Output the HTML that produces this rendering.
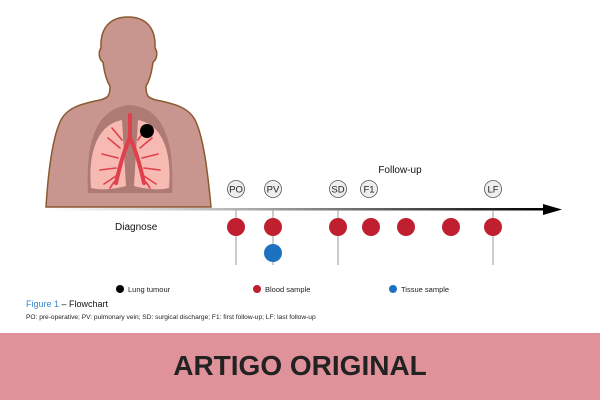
<!DOCTYPE html>
<html><head><meta charset="utf-8"><style>
body{margin:0;width:600px;height:400px;overflow:hidden;background:#fff;font-family:"Liberation Sans",Arial,sans-serif}
</style></head><body>
<svg width="600" height="400" viewBox="0 0 600 400" xmlns="http://www.w3.org/2000/svg" font-family="Liberation Sans, Arial, sans-serif">
<defs>
<linearGradient id="ax" x1="0" x2="1"><stop offset="0" stop-color="#fff"/><stop offset="0.35" stop-color="#bbb"/><stop offset="1" stop-color="#000"/></linearGradient>
</defs>
<!-- body -->
<path d="M46 207 C48 175 52 140 60 122 C66 108 80 104 100 100 C108 98 110 96 110 86 C106 80 104 70 103 62 C99 60 98 52 101 48 C100 28 110 17 128 17 C146 17 156 28 155 48 C158 52 157 60 153 62 C152 70 150 80 146 86 C146 96 148 98 156 100 C176 104 190 108 196 122 C204 140 208 175 211 207 Z" fill="#c9958f" stroke="#8a5a30" stroke-width="1.5"/>
<path d="M88 193 C86 150 92 108 130 105 C168 108 174 150 172 193 Z" fill="#ad7a74"/>
<path d="M91 188 C88 155 96 125 122 120 L126 186 C112 190 98 190 91 188 Z M169 188 C172 155 164 125 138 120 L134 186 C148 190 162 190 169 188 Z" fill="#f7bab2"/>
<g stroke="#e0404c" fill="none" stroke-linecap="round">
<path d="M130 115 L130 138 M130 138 C124 150 120 165 116 183 M130 138 C136 150 140 165 144 183" stroke-width="4"/>
<path d="M120 148 L108 138 M118 158 L102 154 M116 168 L100 170 M116 176 L104 184 M114 182 L110 188 M122 140 L112 128 M140 148 L152 138 M142 158 L158 154 M144 168 L160 170 M144 176 L156 184 M146 182 L150 188 M138 140 L146 128" stroke-width="1.6"/>
</g>
<circle cx="147" cy="131" r="7" fill="#000"/>
<!-- axis -->
<rect x="45" y="208" width="500" height="2.5" fill="url(#ax)"/>
<path d="M543 204 L562 209.5 L543 215 Z" fill="#000"/>
<g stroke="#999" stroke-width="1">
<line x1="236" y1="210" x2="236" y2="265"/><line x1="273" y1="210" x2="273" y2="265"/><line x1="338" y1="210" x2="338" y2="265"/><line x1="493" y1="210" x2="493" y2="265"/>
</g>
<g fill="#c01f30">
<circle cx="236" cy="227" r="9"/><circle cx="273" cy="227" r="9"/><circle cx="338" cy="227" r="9"/><circle cx="371" cy="227" r="9"/><circle cx="406" cy="227" r="9"/><circle cx="451" cy="227" r="9"/><circle cx="493" cy="227" r="9"/>
</g>
<circle cx="273" cy="253" r="9" fill="#1c72c0"/>
<g fill="#eee" stroke="#555" stroke-width="0.8">
<circle cx="236" cy="189" r="8.5"/><circle cx="273" cy="189" r="8.5"/><circle cx="338" cy="189" r="8.5"/><circle cx="369" cy="189" r="8.5"/><circle cx="493" cy="189" r="8.5"/>
</g>
<g font-size="9.5" text-anchor="middle" fill="#222">
<text x="236" y="192.5">PO</text><text x="273" y="192.5">PV</text><text x="338" y="192.5">SD</text><text x="369" y="192.5">F1</text><text x="493" y="192.5">LF</text>
</g>
<text x="400" y="173" font-size="10" text-anchor="middle" fill="#111">Follow-up</text>
<text x="115" y="230" font-size="10" fill="#111">Diagnose</text>
<circle cx="120" cy="289" r="4" fill="#000"/><text x="128" y="292" font-size="7.5" fill="#222">Lung tumour</text>
<circle cx="257" cy="289" r="4" fill="#c01f30"/><text x="265" y="292" font-size="7.5" fill="#222">Blood sample</text>
<circle cx="393" cy="289" r="4" fill="#1c72c0"/><text x="401" y="292" font-size="7.5" fill="#222">Tissue sample</text>
<text x="26" y="307" font-size="9"><tspan fill="#3a86d0">Figure 1</tspan><tspan fill="#111"> – Flowchart</tspan></text>
<text x="26" y="319" font-size="6.6" fill="#222">PO: pre-operative; PV: pulmonary vein; SD: surgical discharge; F1: first follow-up; LF: last follow-up</text>
<rect x="0" y="333" width="600" height="67" fill="#e0929a"/>
<text x="300" y="375" font-size="28" font-weight="bold" text-anchor="middle" fill="#222">ARTIGO ORIGINAL</text>
</svg>
</body></html>
